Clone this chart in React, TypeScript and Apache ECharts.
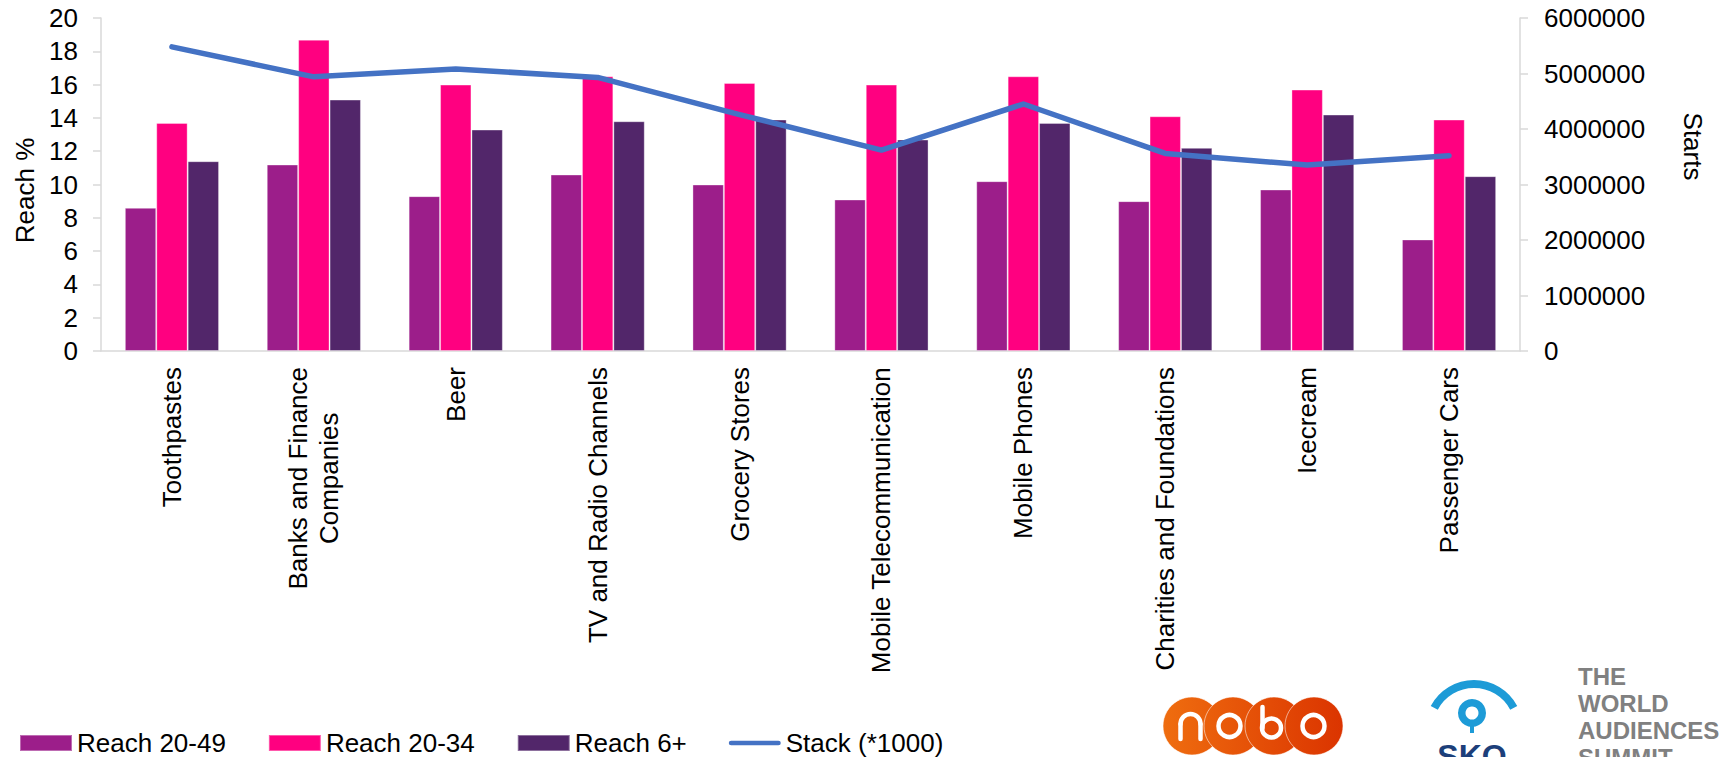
import { useEffect, useRef } from 'react';
import * as echarts from 'echarts';

const categories = [
  'Toothpastes',
  'Banks and Finance\nCompanies',
  'Beer',
  'TV and Radio Channels',
  'Grocery Stores',
  'Mobile Telecommunication',
  'Mobile Phones',
  'Charities and Foundations',
  'Icecream',
  'Passenger Cars',
];

const reach2049 = [8.6, 11.2, 9.3, 10.6, 10.0, 9.1, 10.2, 9.0, 9.7, 6.7];
const reach2034 = [13.7, 18.7, 16.0, 16.5, 16.1, 16.0, 16.5, 14.1, 15.7, 13.9];
const reach6 = [11.4, 15.1, 13.3, 13.8, 13.9, 12.7, 13.7, 12.2, 14.2, 10.5];
const stack = [5480000, 4940000, 5080000, 4930000, 4260000, 3620000, 4450000, 3560000, 3350000, 3520000];

const seriesNames = ['Reach 20-49', 'Reach 20-34', 'Reach 6+', 'Stack (*1000)'];
const summitLines = ['THE', 'WORLD', 'AUDIENCES', 'SUMMIT'];

const FONT = '"Liberation Sans", Arial, sans-serif';
const AXIS_GREY = '#d9d9d9';
const COLORS = ['#9c1e8a', '#ff0080', '#52266a', '#4472c4'];

function buildLogos(): any[] {
  const grad = new echarts.graphic.LinearGradient(
    1163, 0, 1343, 0,
    [
      { offset: 0, color: '#ef6d0f' },
      { offset: 1, color: '#db3400' },
    ],
    true
  );
  const nobo: any[] = [1192, 1233, 1274, 1314].map((cx) => ({
    type: 'circle',
    shape: { cx, cy: 726, r: 29 },
    style: { fill: grad, stroke: 'rgba(255,255,255,0.55)', lineWidth: 1 },
  }));
  const letter = { stroke: '#ffffff', lineWidth: 4.5, fill: 'none', lineCap: 'round' };
  nobo.push(
    { type: 'arc', shape: { cx: 1190.5, cy: 724, r: 10, startAngle: Math.PI, endAngle: Math.PI * 2, clockwise: true }, style: letter },
    { type: 'line', shape: { x1: 1180.5, y1: 724, x2: 1180.5, y2: 739 }, style: letter },
    { type: 'line', shape: { x1: 1200.5, y1: 724, x2: 1200.5, y2: 739 }, style: letter },
    { type: 'circle', shape: { cx: 1229.5, cy: 726, r: 11 }, style: letter },
    { type: 'line', shape: { x1: 1262.5, y1: 707, x2: 1262.5, y2: 728 }, style: letter },
    { type: 'circle', shape: { cx: 1271.5, cy: 728, r: 9.5 }, style: letter },
    { type: 'circle', shape: { cx: 1313.5, cy: 726, r: 11 }, style: letter }
  );

  const skoBlue = '#1d9bd7';
  const sko: any[] = [
    {
      type: 'arc',
      shape: { cx: 1474, cy: 729, r: 45, startAngle: (208 * Math.PI) / 180, endAngle: (332 * Math.PI) / 180, clockwise: true },
      style: { stroke: skoBlue, lineWidth: 8, fill: 'none', lineCap: 'butt' },
    },
    { type: 'ring', shape: { cx: 1472, cy: 713, r: 14, r0: 6.5 }, style: { fill: skoBlue } },
    { type: 'rect', shape: { x: 1470, y: 722, width: 4, height: 11 }, style: { fill: skoBlue } },
    {
      type: 'text',
      style: {
        x: 1472, y: 740, text: 'SKO', align: 'center', verticalAlign: 'top',
        fontFamily: FONT, fontWeight: 'bold', fontSize: 32, fill: '#1c3f7a',
      },
    },
    {
      type: 'text',
      style: {
        x: 1578, y: 663, text: summitLines.join('\n'), align: 'left', verticalAlign: 'top',
        fontFamily: FONT, fontWeight: 'bold', fontSize: 24, lineHeight: 27, fill: '#808080',
      },
    },
  ];
  return [...nobo, ...sko];
}

export default function App() {
  const ref = useRef<HTMLDivElement>(null);

  useEffect(() => {
    if (!ref.current) return;
    const chart = echarts.init(ref.current, undefined, { renderer: 'svg' });

    const axisLine = { show: true, lineStyle: { color: AXIS_GREY, width: 1.5 } };
    const axisTick = { show: true, inside: false, length: 8, lineStyle: { color: AXIS_GREY, width: 1.5 } };
    const labelStyle = { fontFamily: FONT, fontSize: 26, color: '#000000' };

    const barSeries = [reach2049, reach2034, reach6].map((data, i) => ({
      name: seriesNames[i],
      type: 'bar',
      data,
      barWidth: 31.4,
      barGap: '0%',
      itemStyle: { color: COLORS[i], borderColor: 'rgba(255,255,255,0.35)', borderWidth: 1 },
    }));

    chart.setOption({
      animation: false,
      backgroundColor: '#ffffff',
      textStyle: { fontFamily: FONT },
      grid: { left: 101, right: 201, top: 18, bottom: 406, containLabel: false },
      legend: {
        left: 19,
        top: 730,
        padding: 0,
        itemWidth: 52,
        itemHeight: 16,
        itemGap: 42,
        textStyle: { ...labelStyle },
        data: [
          { name: seriesNames[0], icon: 'rect' },
          { name: seriesNames[1], icon: 'rect' },
          { name: seriesNames[2], icon: 'rect' },
          { name: seriesNames[3], icon: 'path://M2.5,0L52.5,0A2.5,2.5,0,0,1,52.5,5L2.5,5A2.5,2.5,0,0,1,2.5,0Z' },
        ],
      },
      xAxis: {
        type: 'category',
        data: categories,
        boundaryGap: true,
        axisLine,
        axisTick: { show: false },
        axisLabel: {
          interval: 0,
          rotate: 90,
          margin: 16,
          formatter: (v: string) => v.split('\n').map((l) => `{c|${l}}`).join('\n'),
          rich: { c: { align: 'center', fontFamily: FONT, fontSize: 26, lineHeight: 31, color: '#000000' } },
        },
      },
      yAxis: [
        {
          type: 'value',
          min: 0,
          max: 20,
          interval: 2,
          position: 'left',
          name: 'Reach %',
          nameLocation: 'middle',
          nameGap: 61,
          nameTextStyle: { ...labelStyle, padding: [0, 12, 0, 0] },
          axisLine,
          axisTick,
          splitLine: { show: false },
          axisLabel: { ...labelStyle, margin: 23 },
        },
        {
          type: 'value',
          min: 0,
          max: 6000000,
          interval: 1000000,
          position: 'right',
          name: 'Starts',
          nameLocation: 'middle',
          nameRotate: -90,
          nameGap: 160,
          nameTextStyle: { ...labelStyle, padding: [0, 76, 0, 0] },
          axisLine,
          axisTick,
          splitLine: { show: false },
          axisLabel: { ...labelStyle, margin: 24, formatter: (v: number) => String(v) },
        },
      ],
      series: [
        ...barSeries,
        {
          name: seriesNames[3],
          type: 'line',
          yAxisIndex: 1,
          data: stack,
          symbol: 'none',
          z: 5,
          itemStyle: { color: COLORS[3] },
          lineStyle: { color: COLORS[3], width: 5.5, cap: 'round', join: 'round' },
        },
      ],
      graphic: buildLogos(),
    });

    return () => chart.dispose();
  }, []);

  return (
    <div
      ref={ref}
      style={{ position: 'absolute', left: 0, top: 0, width: 1721, height: 757, background: '#ffffff' }}
    />
  );
}
